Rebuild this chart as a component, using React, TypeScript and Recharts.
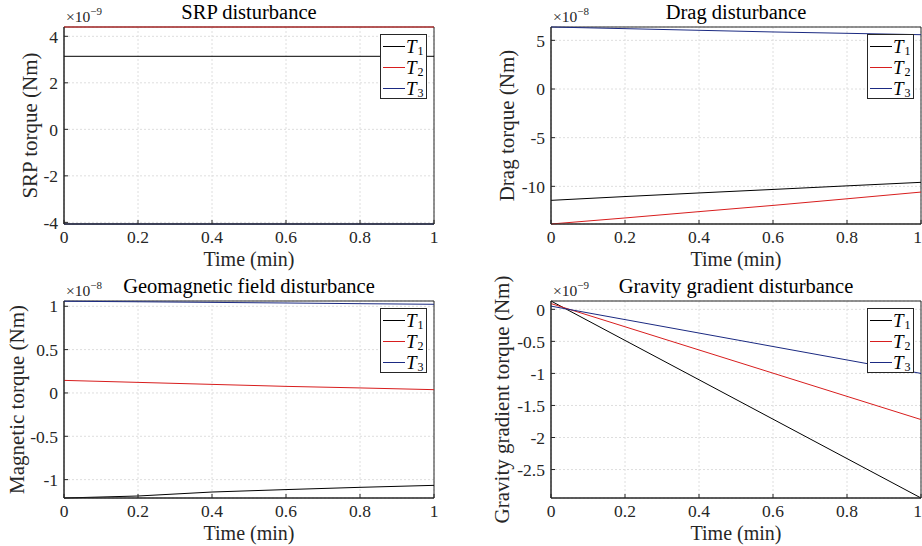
import React from 'react';
import { LineChart, Line, XAxis, YAxis, CartesianGrid, Legend, ReferenceArea } from 'recharts';

const FONT = '"Liberation Serif", "Times New Roman", serif';
const AXIS = '#262626';
const COLORS = ['#000000', '#d81e1e', '#1b2a82'];
const SERIES_NAMES = ['T1', 'T2', 'T3'];

const time = [0, 0.2, 0.4, 0.6, 0.8, 1];
const timeTicks = [0, 0.2, 0.4, 0.6, 0.8, 1];

// SRP disturbance (x1e-9 Nm)
const srpT1 = [3.14, 3.14, 3.14, 3.14, 3.14, 3.14];
const srpT2 = [4.4, 4.4, 4.4, 4.4, 4.4, 4.4];
const srpT3 = [-4.07, -4.07, -4.07, -4.07, -4.07, -4.07];
const srpTicks = [-4, -2, 0, 2, 4];
const srpDomain = [-4.07, 4.4];

// Drag disturbance (x1e-8 Nm)
const dragT1 = [-11.44, -11.05, -10.68, -10.32, -9.95, -9.59];
const dragT2 = [-13.87, -13.25, -12.6, -11.96, -11.28, -10.59];
const dragT3 = [6.37, 6.2, 6.03, 5.86, 5.72, 5.58];
const dragTicks = [-10, -5, 0, 5];
const dragDomain = [-13.87, 6.37];

// Geomagnetic field disturbance (x1e-8 Nm)
const magT1 = [-1.212, -1.189, -1.143, -1.115, -1.089, -1.066];
const magT2 = [0.145, 0.122, 0.099, 0.076, 0.058, 0.038];
const magT3 = [1.058, 1.052, 1.045, 1.038, 1.03, 1.023];
const magTicks = [-1, -0.5, 0, 0.5, 1];
const magDomain = [-1.212, 1.061];

// Gravity gradient disturbance (x1e-9 Nm)
const ggT1 = [0.13, -0.485, -1.099, -1.714, -2.329, -2.944];
const ggT2 = [0.09, -0.272, -0.634, -0.996, -1.358, -1.72];
const ggT3 = [0.05, -0.16, -0.37, -0.58, -0.79, -1.0];
const ggTicks = [-2.5, -2, -1.5, -1, -0.5, 0];
const ggDomain = [-2.944, 0.13];

const emptyTick = () => <g />;

const renderLegend = (props: any) => {
  const payload = props.payload || [];
  return (
    <div
      style={{
        width: 47,
        height: 65,
        boxSizing: 'border-box',
        border: `1px solid ${AXIS}`,
        background: '#fff',
        paddingTop: 1,
        fontFamily: FONT,
      }}
    >
      {payload.map((entry: any) => {
        const name = String(entry.value);
        return (
          <div
            key={name}
            style={{ height: 21, display: 'flex', alignItems: 'center', whiteSpace: 'nowrap' }}
          >
            <span
              style={{
                display: 'inline-block',
                width: 22,
                marginLeft: 2,
                height: 0,
                borderTop: `1px solid ${entry.color}`,
              }}
            />
            <span style={{ fontStyle: 'italic', fontSize: 19, marginLeft: 1, lineHeight: '19px' }}>
              {name.charAt(0)}
            </span>
            <span style={{ fontSize: 12, position: 'relative', top: 5, marginLeft: 1 }}>{name.slice(1)}</span>
          </div>
        );
      })}
    </div>
  );
};

type PanelProps = {
  x: number;
  y: number;
  title: string;
  exponent: string;
  yLabel: string;
  yLabelX: number;
  yAxisWidth: number;
  marginRight: number;
  marginTop: number;
  xAxisHeight: number;
  series: number[][];
  domain: number[];
  yTicks: number[];
  legendLeft: number;
  legendTop: number;
};

const W = 461;
const H = 273;

function Panel(p: PanelProps) {
  const data = time.map((t, i) => ({
    t,
    T1: p.series[0][i],
    T2: p.series[1][i],
    T3: p.series[2][i],
  }));

  const plotLeft = p.yAxisWidth;
  const plotRight = W - p.marginRight;

  const yLabelFn = (lp: any) => {
    const vb = lp.viewBox;
    const cx = vb.x + p.yLabelX;
    const cy = vb.y + vb.height / 2;
    return (
      <text
        x={cx}
        y={cy}
        transform={`rotate(-90 ${cx} ${cy})`}
        textAnchor="middle"
        style={{ fontFamily: FONT, fontSize: 21, fill: AXIS }}
      >
        {p.yLabel}
      </text>
    );
  };

  const xLabelFn = (lp: any) => {
    const vb = lp.viewBox;
    return (
      <text
        x={vb.x + vb.width / 2}
        y={vb.y + 41.5}
        textAnchor="middle"
        style={{ fontFamily: FONT, fontSize: 20, fill: AXIS }}
      >
        Time (min)
      </text>
    );
  };

  const tickStyle = { fontFamily: FONT, fontSize: 17.5, fill: AXIS };

  return (
    <div style={{ position: 'absolute', left: p.x, top: p.y, width: W, height: H }}>
      <LineChart
        width={W}
        height={H}
        data={data}
        margin={{ top: p.marginTop, right: p.marginRight, bottom: 0, left: 0 }}
      >
        <CartesianGrid stroke="#dedede" strokeDasharray="2 2" />
        <ReferenceArea
          x1={0}
          x2={1}
          y1={p.domain[0]}
          y2={p.domain[1]}
          fill="none"
          fillOpacity={0}
          stroke={AXIS}
          strokeWidth={1}
          ifOverflow="visible"
        />
        <XAxis
          dataKey="t"
          type="number"
          domain={[0, 1]}
          ticks={timeTicks}
          height={p.xAxisHeight}
          stroke={AXIS}
          tickSize={-4}
          tickMargin={11}
          tick={tickStyle}
          label={xLabelFn}
        />
        <XAxis
          xAxisId="top"
          dataKey="t"
          orientation="top"
          type="number"
          domain={[0, 1]}
          ticks={timeTicks}
          height={0}
          stroke={AXIS}
          tickSize={-4}
          tick={emptyTick}
        />
        <YAxis
          type="number"
          domain={p.domain}
          ticks={p.yTicks}
          width={p.yAxisWidth}
          stroke={AXIS}
          tickSize={-4}
          tickMargin={10}
          tick={tickStyle}
          label={yLabelFn}
        />
        <YAxis
          yAxisId="right"
          orientation="right"
          type="number"
          domain={p.domain}
          ticks={p.yTicks}
          width={0}
          stroke={AXIS}
          tickSize={-4}
          tick={emptyTick}
        />
        <Legend
          layout="horizontal"
          verticalAlign="middle"
          align="center"
          content={renderLegend}
          wrapperStyle={{ left: p.legendLeft, top: p.legendTop, width: 47, height: 65 }}
        />
        {SERIES_NAMES.map((name, i) => (
          <Line
            key={name}
            dataKey={name}
            name={name}
            type="linear"
            stroke={COLORS[i]}
            strokeWidth={1}
            dot={false}
            activeDot={false}
            isAnimationActive={false}
          />
        ))}
      </LineChart>
      <svg
        width={W}
        height={H}
        style={{ position: 'absolute', left: 0, top: 0, pointerEvents: 'none', overflow: 'visible' }}
      >
        <text
          x={(plotLeft + plotRight) / 2}
          y={p.marginTop - 8}
          textAnchor="middle"
          style={{ fontFamily: FONT, fontSize: 20.5, fill: '#000' }}
        >
          {p.title}
        </text>
        <text x={plotLeft + 2} y={p.marginTop - 5.5} style={{ fontFamily: FONT, fontSize: 15.5, fill: AXIS }}>
          ×10
          <tspan dy={-7} style={{ fontSize: 11 }}>
            {p.exponent}
          </tspan>
        </text>
      </svg>
    </div>
  );
}

export default function App() {
  return (
    <div
      style={{
        position: 'absolute',
        left: 0,
        top: 0,
        width: 922,
        height: 546,
        background: '#fff',
        overflow: 'hidden',
      }}
    >
      <Panel
        x={0}
        y={0}
        title="SRP disturbance"
        exponent="−9"
        yLabel="SRP torque (Nm)"
        yLabelX={37}
        yAxisWidth={64}
        marginRight={27}
        marginTop={27}
        xAxisHeight={49}
        series={[srpT1, srpT2, srpT3]}
        domain={srpDomain}
        yTicks={srpTicks}
        legendLeft={380}
        legendTop={34}
      />
      <Panel
        x={461}
        y={0}
        title="Drag disturbance"
        exponent="−8"
        yLabel="Drag torque (Nm)"
        yLabelX={53}
        yAxisWidth={90}
        marginRight={1}
        marginTop={27}
        xAxisHeight={49}
        series={[dragT1, dragT2, dragT3]}
        domain={dragDomain}
        yTicks={dragTicks}
        legendLeft={406}
        legendTop={34}
      />
      <Panel
        x={0}
        y={273}
        title="Geomagnetic field disturbance"
        exponent="−8"
        yLabel="Magnetic torque (Nm)"
        yLabelX={24}
        yAxisWidth={64}
        marginRight={27}
        marginTop={28}
        xAxisHeight={48}
        series={[magT1, magT2, magT3]}
        domain={magDomain}
        yTicks={magTicks}
        legendLeft={380}
        legendTop={35}
      />
      <Panel
        x={461}
        y={273}
        title="Gravity gradient disturbance"
        exponent="−9"
        yLabel="Gravity gradient torque (Nm)"
        yLabelX={48}
        yAxisWidth={90}
        marginRight={1}
        marginTop={28}
        xAxisHeight={48}
        series={[ggT1, ggT2, ggT3]}
        domain={ggDomain}
        yTicks={ggTicks}
        legendLeft={406}
        legendTop={35}
      />
    </div>
  );
}
